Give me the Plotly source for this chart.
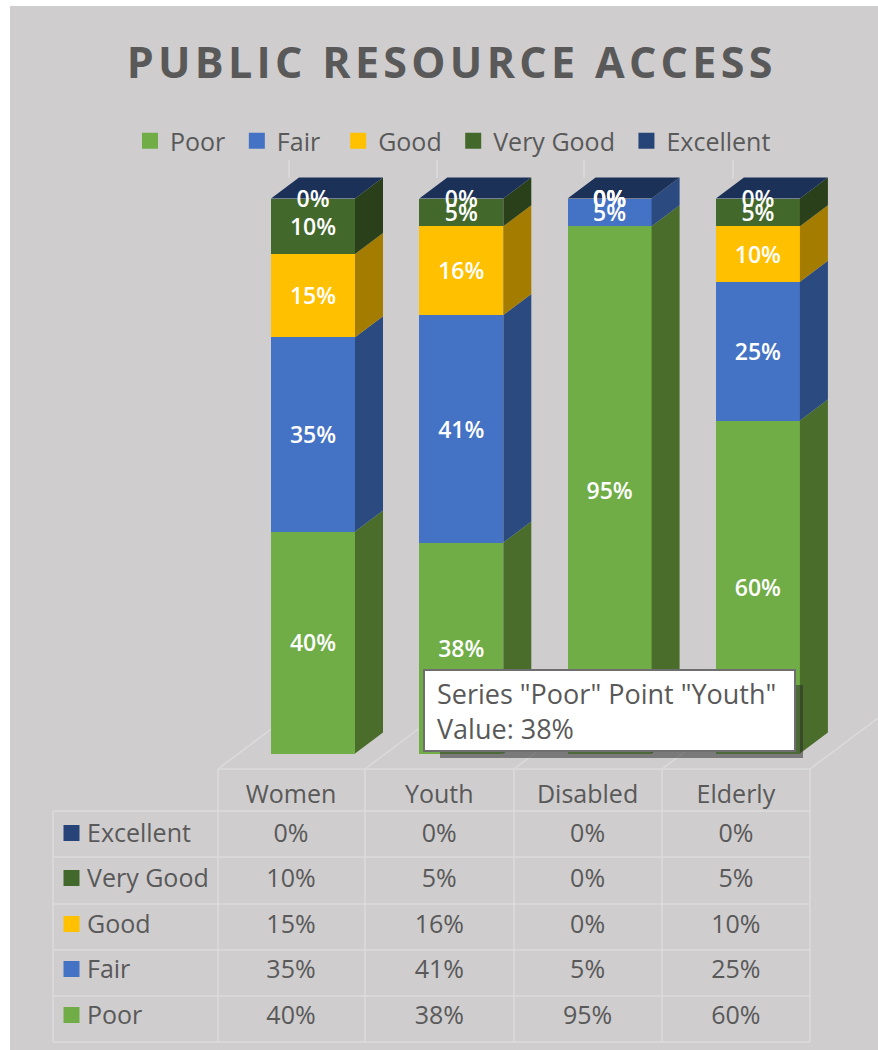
import plotly.graph_objects as go

categories = ["Women", "Youth", "Disabled", "Elderly"]
series_names = ["Poor", "Fair", "Good", "Very Good", "Excellent"]
poor = [40, 38, 95, 60]
fair = [35, 41, 5, 25]
good = [15, 16, 0, 10]
very_good = [10, 5, 0, 5]
excellent = [0, 0, 0, 0]
series_values = [poor, fair, good, very_good, excellent]
front_colors = ["#70ad47", "#4472c4", "#ffc000", "#43682b", "#264478"]
side_colors = ["#4a6d2b", "#2a4a80", "#a37c00", "#2a401a", "#1e3866"]
top_color = "#1c3158"
tooltip_series, tooltip_point = "Poor", "Youth"

W, H = 878, 1050
BG = "#cfcdce"
GRID = "#dcdbdb"
TXT = "#595959"
FONT = "Open Sans"

# pixel calibration of the data axes
X0_PX, X_STEP = 313.0, 148.3
Y0_PX, Y_STEP = 753.5, 5.55
TEXT_NUDGE = 3  # px, text baseline correction


def dx(px):
    return (px - X0_PX) / X_STEP


def dy(py):
    return (Y0_PX - py) / Y_STEP


BAR_W = 84 / X_STEP
DEPTH_X = 28 / X_STEP
DEPTH_Y = 21 / Y_STEP

fig = go.Figure()
xs = list(range(len(categories)))

# front faces
for name, vals, col in zip(series_names, series_values, front_colors):
    fig.add_bar(x=xs, y=vals, name=name, width=BAR_W, marker=dict(color=col, line=dict(width=0)),
                showlegend=False, hoverinfo="skip")

# side faces, top face, data labels
base = [0, 0, 0, 0]
label_sets = []
for name, vals, col in zip(series_names, series_values, side_colors):
    px_, py_ = [], []
    lx, ly, lt = [], [], []
    for i, v in enumerate(vals):
        r = i + BAR_W / 2
        b, t = base[i], base[i] + v
        if v > 0:
            px_ += [r, r + DEPTH_X, r + DEPTH_X, r, r, None]
            py_ += [b, b + DEPTH_Y, t + DEPTH_Y, t, b, None]
        lx.append(i)
        ly.append((b + t) / 2 - TEXT_NUDGE / Y_STEP)
        lt.append(f"{v}%")
        base[i] = t
    if px_:
        fig.add_scatter(x=px_, y=py_, mode="lines", fill="toself", fillcolor=col,
                        line=dict(width=0), showlegend=False, hoverinfo="skip")
    label_sets.append((lx, ly, lt))

tx, ty = [], []
for i in xs:
    l, r = i - BAR_W / 2, i + BAR_W / 2
    t = base[i]
    tx += [l, r, r + DEPTH_X, l + DEPTH_X, l, None]
    ty += [t, t, t + DEPTH_Y, t + DEPTH_Y, t, None]
fig.add_scatter(x=tx, y=ty, mode="lines", fill="toself", fillcolor=top_color,
                line=dict(width=0), showlegend=False, hoverinfo="skip")

for lx, ly, lt in label_sets:
    fig.add_scatter(x=lx, y=ly, text=lt, mode="text", showlegend=False, hoverinfo="skip",
                    textposition="middle center",
                    textfont=dict(family=FONT, size=23, color="white", weight=600))

# data table
COL_OFF = -22 / X_STEP
row_py = {"Excellent": 833, "Very Good": 878, "Good": 924, "Fair": 969, "Poor": 1015}
legend_pad = {"Fair": "\u00a0\u00a0"}
fig.add_scatter(x=[i + COL_OFF for i in xs], y=[dy(794 + TEXT_NUDGE)] * 4, text=categories, mode="text",
                showlegend=False, hoverinfo="skip", textposition="middle center",
                textfont=dict(family=FONT, size=25, color=TXT))
for name, vals, col in zip(series_names, series_values, front_colors):
    yr = dy(row_py[name])
    yt = dy(row_py[name] + TEXT_NUDGE)
    fig.add_scatter(x=[dx(71.5)], y=[yr], mode="markers", name=name + legend_pad.get(name, "\u00a0"),
                    hoverinfo="skip", marker=dict(symbol="square", size=16, color=col, line=dict(width=0)))
    fig.add_scatter(x=[dx(87)], y=[yt], text=[name], mode="text", showlegend=False, hoverinfo="skip",
                    textposition="middle right", textfont=dict(family=FONT, size=25, color=TXT))
    fig.add_scatter(x=[i + COL_OFF for i in xs], y=[yt] * 4, text=[f"{v}%" for v in vals], mode="text",
                    showlegend=False, hoverinfo="skip", textposition="middle center",
                    textfont=dict(family=FONT, size=25, color=TXT))


def px_line(x0, y0, x1, y1, layer="below", color=GRID, width=1.5):
    return dict(type="line", xref="paper", yref="paper", x0=x0 / W, x1=x1 / W,
                y0=1 - y0 / H, y1=1 - y1 / H, layer=layer, line=dict(color=color, width=width))


def px_rect(x0, y0, x1, y1, fill, layer="above", line=None):
    return dict(type="rect", xref="paper", yref="paper", x0=x0 / W, x1=x1 / W,
                y0=1 - y1 / H, y1=1 - y0 / H, fillcolor=fill, layer=layer,
                line=line or dict(width=0))


shapes = [px_rect(10, 6, W, H, BG, layer="below")]
table_cols = [218, 365, 514, 662, 810]
table_rows = [811, 857, 904, 950, 996, 1042]
for c in table_cols:
    shapes.append(px_line(c, 769, c, 1042))
    shapes.append(px_line(c, 769, c + 68, 718))
shapes.append(px_line(53, 811, 53, 1042))
shapes.append(px_line(218, 769, 810, 769))
for r in table_rows:
    shapes.append(px_line(53, r, 810, r))
for c in [289, 437, 584, 733]:
    shapes.append(px_line(c, 160, c, 178))

# tooltip: shadow then box
shapes.append(px_rect(440, 685, 803, 758, "rgba(40,40,40,0.5)"))
shapes.append(px_rect(424, 670, 795, 751, "white", line=dict(color="#6e6e6e", width=2)))

tooltip_value = series_values[series_names.index(tooltip_series)][categories.index(tooltip_point)]
fig.add_annotation(xref="paper", yref="paper", x=435 / W, y=1 - 711 / H, xanchor="left", yanchor="middle",
                   align="left", showarrow=False,
                   text=f'Series "{tooltip_series}" Point "{tooltip_point}"<br>Value: {tooltip_value}%',
                   font=dict(family=FONT, size=27, color=TXT))

title_text = "\u200a".join("PUBLIC RESOURCE ACCESS")
fig.update_layout(
    width=W, height=H, autosize=False,
    margin=dict(l=0, r=0, t=0, b=0, pad=0),
    paper_bgcolor="white", plot_bgcolor="rgba(0,0,0,0)",
    barmode="stack", bargap=0,
    title=dict(text=title_text, x=449.5 / W, xanchor="center", y=1 - 63 / H, yanchor="middle",
               xref="paper", yref="paper", automargin=False,
               font=dict(family=FONT, size=43, color=TXT, weight=700)),
    legend=dict(orientation="h", x=130 / W, xanchor="left", y=1 - 141 / H, yanchor="middle",
                bgcolor="rgba(0,0,0,0)", font=dict(family=FONT, size=25, color=TXT),
                itemwidth=30, traceorder="normal"),
    xaxis=dict(visible=False, range=[dx(0), dx(W)], domain=[0, 1], fixedrange=True),
    yaxis=dict(visible=False, range=[dy(H), dy(0)], domain=[0, 1], fixedrange=True),
    shapes=shapes,
    showlegend=True,
)
fig.write_html("out.html", config={"displayModeBar": False},
               post_script="document.body.style.margin='0';document.body.style.overflow='hidden';")
